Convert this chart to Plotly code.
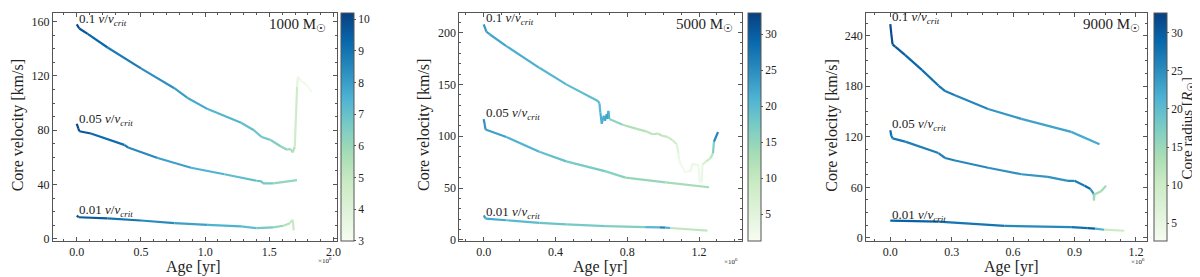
import plotly.graph_objects as go
from plotly.colors import sample_colorscale

# ---------------- data (age in units of 1e6 yr, velocity km/s, core radius R_sun) -------------
# Panel 1: 1000 Msun
p1_top_age = [0.0, 0.02, 0.085, 0.24, 0.5, 0.76, 0.86, 1.02, 1.28, 1.38, 1.44, 1.51, 1.59, 1.638, 1.664, 1.682, 1.698, 1.716, 1.723, 1.74, 1.79, 1.83]
p1_top_vel = [158, 155, 151, 141, 125.6, 111, 104, 95.6, 85.5, 80, 75, 72.8, 68, 65.6, 66.3, 63.6, 68, 112, 119.6, 116.8, 113.6, 108]
p1_top_rad = [10.1, 9.9, 9.6, 9.1, 8.6, 8.1, 7.9, 7.6, 7.2, 7.0, 6.9, 6.7, 6.3, 6.0, 5.8, 5.6, 5.3, 4.0, 3.5, 3.3, 3.2, 3.1]

p1_mid_age = [0.0, 0.013, 0.02, 0.11, 0.37, 0.4, 0.63, 0.89, 1.15, 1.4, 1.44, 1.45, 1.53, 1.715]
p1_mid_vel = [84.8, 81.2, 79.3, 77.6, 69.2, 67.3, 59.6, 52.4, 47.6, 42.8, 42.3, 40.8, 40.8, 43.2]
p1_mid_rad = [10.1, 10.0, 9.9, 9.5, 8.9, 8.8, 8.2, 7.7, 7.3, 7.0, 6.9, 6.8, 6.6, 5.6]

p1_low_age = [0.0, 0.015, 0.24, 0.5, 0.76, 1.02, 1.28, 1.4, 1.53, 1.61, 1.66, 1.68, 1.685, 1.69]
p1_low_vel = [17, 15.9, 15.1, 13.5, 11.5, 10.3, 9.1, 7.9, 8.4, 9.6, 11.5, 14, 11.5, 6.2]
p1_low_rad = [10.0, 9.9, 9.3, 8.7, 8.2, 7.7, 7.3, 7.0, 6.4, 5.7, 5.2, 5.0, 4.9, 4.8]

# Panel 2: 5000 Msun
p2_top_age = [0.0, 0.015, 0.033, 0.126, 0.31, 0.46, 0.636, 0.645, 0.65, 0.658, 0.669, 0.676, 0.686, 0.691, 0.695, 0.70,
              0.774, 0.848, 0.904, 0.94, 0.969, 0.997, 1.024, 1.052, 1.076, 1.085, 1.089, 1.098, 1.111, 1.122, 1.136,
              1.154, 1.163, 1.182, 1.197, 1.204, 1.215, 1.219, 1.237, 1.265, 1.278, 1.283, 1.306]
p2_top_vel = [207.9, 201, 198.4, 187, 166, 150, 134, 131.8, 123, 112, 119.8, 115, 121.4, 116.7, 124.5, 116.7,
              111, 107.3, 104.7, 101.9, 102.5, 100.3, 99.4, 96.2, 92.2, 83.7, 77.4, 72.6, 69.5, 64.8, 66.3,
              66.3, 73.3, 72.6, 72, 55.4, 55.4, 72.6, 75.2, 79, 83.7, 94.6, 104]
p2_top_rad = [24, 23.5, 23, 22, 21, 20, 19.5, 20, 21, 22, 21, 22, 23, 22, 24, 18,
              13, 12, 11.5, 11, 11, 10.5, 10, 9, 7, 4, 3, 2.5, 2, 2, 2.5,
              3, 3.5, 3.5, 3.5, 2, 2, 5, 8, 10, 13, 20, 31]

p2_mid_age = [0.0, 0.005, 0.01, 0.126, 0.31, 0.46, 0.68, 0.79, 1.013, 1.256]
p2_mid_vel = [116.5, 111.8, 106.5, 99.2, 85, 75.7, 66, 60, 55.4, 50.7]
p2_mid_rad = [25, 24.5, 24, 22, 20, 18.5, 16.5, 15.5, 14, 13]

p2_low_age = [0.0, 0.01, 0.126, 0.31, 0.46, 0.68, 0.9, 0.98, 1.013, 1.04, 1.247]
p2_low_vel = [23.6, 20.5, 18.9, 16.4, 14.8, 13.2, 12.3, 12.0, 11.8, 11.4, 8.8]
p2_low_rad = [24, 23, 21, 19, 18, 17, 16, 25, 27, 16, 5]

# Panel 3: 9000 Msun
p3_top_age = [0.0, 0.005, 0.011, 0.024, 0.073, 0.154, 0.235, 0.268, 0.316, 0.478, 0.64, 0.884, 1.022]
p3_top_vel = [253.6, 242, 229.6, 227, 216.8, 199.4, 180.8, 174.2, 169.2, 152.9, 141.3, 125.8, 111.1]
p3_top_rad = [32, 31.5, 31, 30.5, 29.5, 28.5, 27.5, 27, 26.5, 25, 23.5, 22.5, 22]

p3_mid_age = [0.0, 0.005, 0.011, 0.073, 0.235, 0.268, 0.316, 0.478, 0.64, 0.77, 0.868, 0.9, 0.949, 0.978, 0.994, 0.995, 0.997, 1.03, 1.054]
p3_mid_vel = [127.8, 121.2, 118.1, 114.2, 100.7, 94.8, 91.8, 83.2, 75.5, 72.4, 67.7, 67.7, 61.9, 58, 52.3, 44.5, 51.5, 55.4, 61.9]
p3_mid_rad = [29, 28, 27.5, 27, 26, 26.5, 26, 25, 24.5, 24, 25, 26, 28, 29, 20, 15, 14, 14, 15]

p3_low_age = [0.0, 0.235, 0.559, 0.884, 0.965, 1.0, 1.046, 1.143]
p3_low_vel = [20.5, 19.4, 14.3, 12.8, 11.6, 10.9, 9.7, 8.5]
p3_low_rad = [30, 29, 26, 25, 31, 28, 15, 5]

mass_labels = ["1000 M<sub>☉</sub>", "5000 M<sub>☉</sub>", "9000 M<sub>☉</sub>"]
curve_labels = ["0.1", "0.05", "0.01"]

# ---------------- layout helpers -------------
W, H = 1200, 277
FONT = "Liberation Serif"
TXT = "#222222"
FRAME = "#555555"

def fx(p):
    return p / W

def fy(p):
    return 1 - p / H

panels = [
    dict(curves=[(p1_top_age, p1_top_vel, p1_top_rad), (p1_mid_age, p1_mid_vel, p1_mid_rad), (p1_low_age, p1_low_vel, p1_low_rad)],
         cmin=3.0, cmax=10.2, cdtick=1, dom=(45, 330), xr=(-0.186, 2.026), yr=(-1.5, 166.5),
         xd=0.5, xm=0.1, yd=40, ym=10, label_y=[161.5, 87.7, 20.7], cbx=334,
         ytitle_x=10, xtitle_x=186.5, mult=(318, 258), mass_x=321),
    dict(curves=[(p2_top_age, p2_top_vel, p2_top_rad), (p2_mid_age, p2_mid_vel, p2_mid_rad), (p2_low_age, p2_low_vel, p2_low_rad)],
         cmin=1.3, cmax=33.0, cdtick=5, dom=(453, 736), xr=(-0.135, 1.437), yr=(-1, 219),
         xd=0.4, xm=0.1, yd=50, ym=10, label_y=[213.3, 121.9, 26.8], cbx=742,
         ytitle_x=418, xtitle_x=594.7, mult=(725, 259), mass_x=729),
    dict(curves=[(p3_top_age, p3_top_vel, p3_top_rad), (p3_mid_age, p3_mid_vel, p3_mid_rad), (p3_low_age, p3_low_vel, p3_low_rad)],
         cmin=2.7, cmax=32.6, cdtick=5, dom=(861, 1143), xr=(-0.118, 1.255), yr=(-3.5, 267),
         xd=0.3, xm=0.075, yd=60, ym=15, label_y=[262, 134.7, 26.7], cbx=1150,
         ytitle_x=827, xtitle_x=1007, mult=(1134, 259), mass_x=1138),
]

PLOT_TOP, PLOT_BOT = 5, 238

fig = go.Figure()
annotations = []

for i, p in enumerate(panels):
    n = i + 1
    xa = "x" if n == 1 else f"x{n}"
    ya = "y" if n == 1 else f"y{n}"
    for (ages, vels, rads) in p["curves"]:
        for k in range(len(ages) - 1):
            rmid = 0.5 * (rads[k] + rads[k + 1])
            t = min(1.0, max(0.0, (rmid - p["cmin"]) / (p["cmax"] - p["cmin"])))
            col = sample_colorscale("GnBu", [t])[0]
            fig.add_trace(go.Scatter(x=[ages[k], ages[k + 1]], y=[vels[k], vels[k + 1]], mode="lines",
                                     line=dict(color=col, width=2.2), xaxis=xa, yaxis=ya,
                                     showlegend=False, hoverinfo="skip"))
    # colorbar carrier
    cb = dict(x=fx(p["cbx"]), xanchor="left", xpad=0, ypad=0, thickness=13, thicknessmode="pixels",
              len=(PLOT_BOT - PLOT_TOP) / H, lenmode="fraction", y=fy(PLOT_BOT), yanchor="bottom",
              outlinecolor=FRAME, outlinewidth=1, ticks="outside", ticklen=2, tickcolor=FRAME,
              dtick=p["cdtick"], tick0=0, tickfont=dict(family=FONT, size=11.5, color=TXT))
    fig.add_trace(go.Scatter(x=[p["curves"][0][0][0]], y=[p["curves"][0][1][0]], mode="markers",
                             marker=dict(size=0, opacity=0, color=[p["cmin"]], cmin=p["cmin"], cmax=p["cmax"],
                                         colorscale="GnBu", showscale=True, colorbar=cb),
                             xaxis=xa, yaxis=ya, showlegend=False, hoverinfo="skip"))

    axcommon = dict(showline=True, linecolor=FRAME, linewidth=1, mirror="allticks", ticks="inside",
                    ticklen=4, tickcolor=FRAME, showgrid=False, zeroline=False,
                    tickfont=dict(family=FONT, size=12, color=TXT))
    fig.layout[f"xaxis{'' if n == 1 else n}"] = dict(
        axcommon, domain=[fx(p["dom"][0]), fx(p["dom"][1])], range=list(p["xr"]), anchor=ya,
        dtick=p["xd"], tick0=0, tickformat=".1f",
        minor=dict(ticks="inside", ticklen=2, dtick=p["xm"], tick0=0, tickcolor=FRAME))
    fig.layout[f"yaxis{'' if n == 1 else n}"] = dict(
        axcommon, domain=[fy(PLOT_BOT), fy(PLOT_TOP)], range=list(p["yr"]), anchor=xa,
        dtick=p["yd"], tick0=0,
        minor=dict(ticks="inside", ticklen=2, dtick=p["ym"], tick0=0, tickcolor=FRAME))

    # curve labels
    for lab, ly in zip(curve_labels, p["label_y"]):
        annotations.append(dict(x=0, y=ly, xref=xa, yref=ya, xanchor="left", yanchor="middle", showarrow=False,
                                text=f"{lab} <i>v</i>/<i>v</i><sub><i>crit</i></sub>",
                                font=dict(family=FONT, size=13, color=TXT)))
    # mass label
    annotations.append(dict(x=fx(p["mass_x"]), y=fy(17), xref="paper", yref="paper", xanchor="right",
                            yanchor="middle", showarrow=False, text=mass_labels[i],
                            font=dict(family=FONT, size=15, color=TXT)))
    # axis titles
    annotations.append(dict(x=fx(p["ytitle_x"]), y=fy(120), xref="paper", yref="paper", xanchor="center",
                            yanchor="middle", showarrow=False, textangle=-90, text="Core velocity [km/s]",
                            font=dict(family=FONT, size=16, color=TXT)))
    annotations.append(dict(x=fx(p["xtitle_x"]), y=fy(265), xref="paper", yref="paper", xanchor="center",
                            yanchor="middle", showarrow=False, text="Age [yr]",
                            font=dict(family=FONT, size=16, color=TXT)))
    annotations.append(dict(x=fx(p["mult"][0]), y=fy(p["mult"][1]), xref="paper", yref="paper", xanchor="center",
                            yanchor="middle", showarrow=False, text="×10<sup>6</sup>",
                            font=dict(family=FONT, size=7, color=TXT)))

annotations.append(dict(x=fx(1184), y=fy(123), xref="paper", yref="paper", xanchor="center", yanchor="middle",
                        showarrow=False, textangle=-90, text="Core radius [<i>R</i><sub>☉</sub>]",
                        font=dict(family=FONT, size=15, color=TXT)))

fig.update_layout(width=W, height=H, margin=dict(l=0, r=0, t=0, b=0), paper_bgcolor="white",
                  plot_bgcolor="white", showlegend=False, annotations=annotations)

fig.write_html("out.html")
